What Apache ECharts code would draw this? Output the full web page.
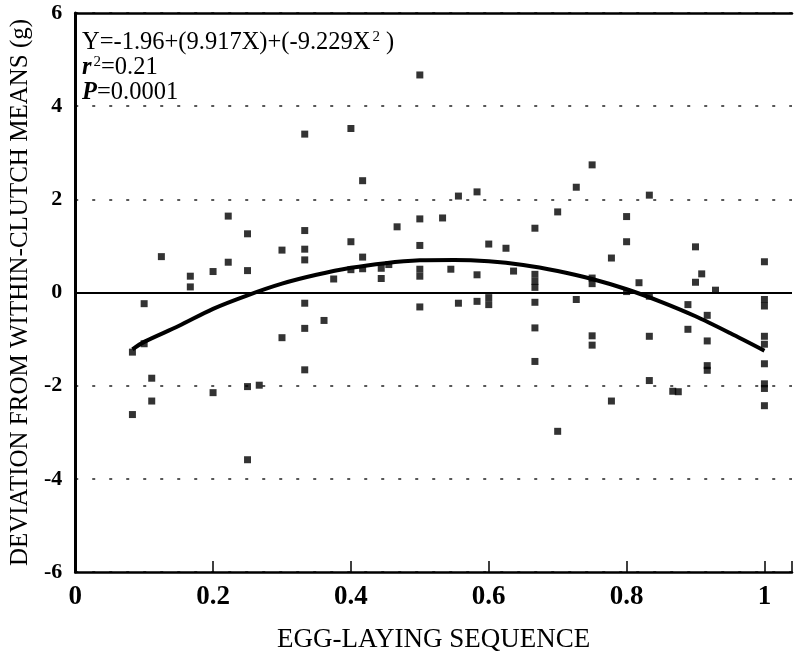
<!DOCTYPE html>
<html>
<head>
<meta charset="utf-8">
<script src="https://cdn.jsdelivr.net/npm/echarts@6/dist/echarts.min.js"></script>
<style>html,body{margin:0;padding:0;background:#fff}#c{width:795px;height:658px}</style>
</head>
<body>
<div id="c"></div>
<script>
var pointX = [0.083,0.083,0.1,0.1,0.111,0.111,0.125,0.167,0.167,0.2,0.2,0.222,0.222,0.25,0.25,0.25,0.25,0.267,0.3,0.3,
0.333,0.333,0.333,0.333,0.333,0.333,0.333,0.361,0.375,0.4,0.4,0.4,0.417,0.417,0.417,0.444,0.444,0.455,0.467,
0.5,0.5,0.5,0.5,0.5,0.5,0.533,0.545,0.556,0.556,0.583,0.583,0.583,0.6,0.6,0.6,0.625,0.636,
0.667,0.667,0.667,0.667,0.667,0.667,0.667,0.7,0.7,0.727,0.727,0.75,0.75,0.75,0.75,0.75,0.778,0.778,
0.8,0.8,0.8,0.818,0.833,0.833,0.833,0.833,0.867,0.875,0.889,0.889,0.9,0.9,0.909,0.917,0.917,0.917,0.917,0.929,
1,1,1,1,1,1,1,1,1];
var pointY = [-1.28,-2.62,-0.24,-1.1,-1.84,-2.33,0.77,0.35,0.12,0.45,-2.15,1.64,0.65,1.26,0.47,-2.02,-3.59,-1.99,0.91,-0.97,
3.40,1.33,0.93,0.70,-0.23,-0.77,-1.66,-0.6,0.29,3.52,1.09,0.49,2.40,0.76,0.51,0.52,0.30,0.60,1.41,
4.67,1.58,1.01,0.50,0.35,-0.31,1.60,0.50,2.07,-0.23,2.16,0.38,-0.19,1.04,-0.11,-0.26,0.95,0.46,
1.38,0.39,0.24,0.11,-0.21,-0.76,-1.48,1.73,-2.98,2.26,-0.15,2.74,0.31,0.19,-0.93,-1.13,0.74,-2.33,
1.63,1.09,0.02,0.21,2.09,-0.08,-0.94,-1.89,-2.12,-2.13,-0.26,-0.79,0.98,0.22,0.40,-0.49,-1.04,-1.57,-1.67,0.05,
0.66,-0.15,-0.29,-0.94,-1.11,-1.53,-1.96,-2.06,-2.43];
var curveX = [0.083,0.1,0.15,0.2,0.25,0.3,0.35,0.4,0.45,0.5,0.55,0.6,0.65,0.7,0.75,0.8,0.85,0.9,0.95,1.0];
var curveY = [-1.22,-1.06,-0.72,-0.35,-0.06,0.19,0.38,0.53,0.63,0.69,0.70,0.67,0.59,0.46,0.29,0.07,-0.20,-0.51,-0.87,-1.25];
var yTicks = [-6,-4,-2,0,2,4,6];
var xTicks = [0,0.2,0.4,0.6,0.8,1];
var xTitle = 'EGG-LAYING SEQUENCE';
var yTitle = 'DEVIATION FROM WITHIN-CLUTCH MEANS (g)';

var F = '"Liberation Serif", "Times New Roman", serif';
var chart = echarts.init(document.getElementById('c'), null, {renderer: 'canvas'});
var pts = pointX.map(function (x, i) { return [x, pointY[i]]; });
var crv = curveX.map(function (x, i) { return [x, curveY[i]]; });
chart.setOption({
  animation: false,
  backgroundColor: '#fff',
  title: {
    left: 82, top: 30, padding: 0,
    text: '{n|Y=-1.96+(9.917X)+(-9.229X}{s|2}{n| )}\n{i|r}{s|2}{n|=0.21}\n{i|P}{n|=0.0001}',
    textStyle: {
      fontFamily: F, color: '#000', fontWeight: 'normal',
      rich: {
        n: {fontFamily: F, fontSize: 24.5, lineHeight: 25, color: '#000'},
        i: {fontFamily: F, fontSize: 24.5, lineHeight: 25, color: '#000', fontStyle: 'italic', fontWeight: 'bold'},
        s: {fontFamily: F, fontSize: 15, lineHeight: 14, color: '#000', verticalAlign: 'top', padding: [0, 0, 0, 2]}
      }
    }
  },
  grid: {left: 66, right: 0, top: 13, bottom: 85},
  xAxis: [{
    type: 'value', min: 0, max: 1.04, interval: 0.2,
    name: xTitle, nameLocation: 'middle', nameGap: 54,
    nameTextStyle: {fontFamily: F, fontSize: 27, color: '#000'},
    axisLine: {show: true, onZero: false, lineStyle: {color: '#000', width: 2.5}},
    axisTick: {show: true, inside: true, length: 11, lineStyle: {color: '#000', width: 1.5}},
    axisLabel: {fontFamily: F, fontSize: 27, color: '#000', fontWeight: 'bold', margin: 12,
      formatter: function (v) { return xTicks.some(function (t) { return Math.abs(t - v) < 1e-6; }) ? String(+v.toFixed(1)) : ''; }},
    splitLine: {show: false}
  }, {
    type: 'value', min: 0, max: 1.04, position: 'top',
    axisLine: {show: true, onZero: false, lineStyle: {color: '#000', width: 2.5}},
    axisTick: {show: false}, axisLabel: {show: false}, splitLine: {show: false}
  }],
  yAxis: {
    type: 'value', min: yTicks[0], max: yTicks[yTicks.length - 1], interval: 2,
    name: yTitle, nameLocation: 'middle', nameGap: 41,
    nameTextStyle: {fontFamily: F, fontSize: 25, color: '#000'},
    axisLine: {show: true, onZero: false, lineStyle: {color: '#000', width: 3}},
    axisTick: {show: false},
    axisLabel: {fontFamily: F, fontSize: 22, color: '#000', fontWeight: 'bold', margin: 13},
    splitLine: {show: true, lineStyle: {color: '#222', width: 1.5, type: [3, 14]}}
  },
  series: [{
    type: 'scatter', data: pts, symbol: 'rect', symbolSize: 7,
    itemStyle: {color: '#000'}, z: 3,
    markLine: {silent: true, symbol: 'none', label: {show: false},
      lineStyle: {color: '#000', width: 2, type: 'solid'},
      data: [{yAxis: 0}]}
  }, {
    type: 'line', data: crv, smooth: 0.3, showSymbol: false,
    lineStyle: {color: '#000', width: 4}, z: 4
  }]
});
</script>
</body>
</html>
